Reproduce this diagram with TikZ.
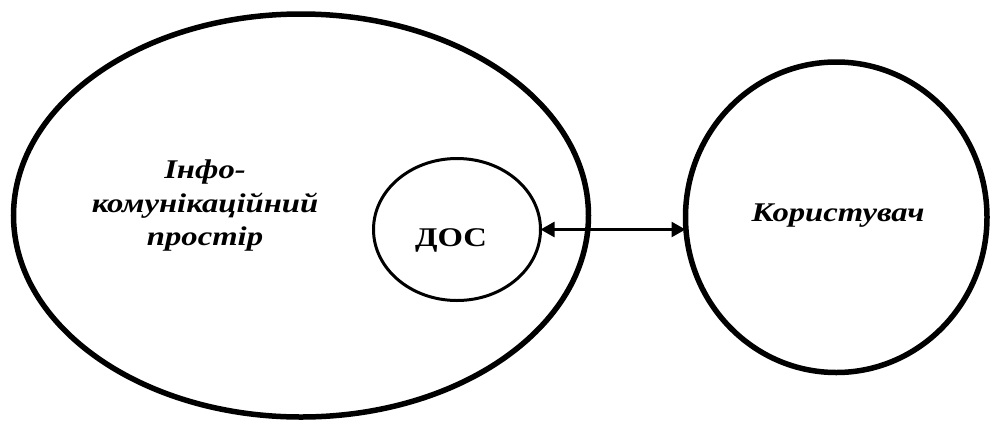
\documentclass[tikz,border=0pt]{standalone}
\usepackage{graphicx}
\usepackage{fontspec}
\setmainfont{Liberation Serif}
\usetikzlibrary{shapes.geometric,arrows.meta}
\newcommand\hstretch[1]{\scalebox{1.21}[1]{#1}}
\begin{document}
\begin{tikzpicture}[x=1pt,y=-1pt,
  bigshape/.style={draw, ellipse, line width=5.5pt, inner sep=0pt, outer sep=0pt},
  smallshape/.style={draw, ellipse, line width=3pt, inner sep=0pt, outer sep=0pt},
  lbl/.style={font=\fontsize{27}{33.5}\selectfont\bfseries\itshape, align=center, inner sep=0pt},
  link/.style={line width=2.6pt, {Triangle[length=14pt,width=15pt]}-{Triangle[length=14pt,width=15pt]}}]
\useasboundingbox (0,0) rectangle (990,421);
\node[bigshape, minimum width=575pt, minimum height=403pt] (info) at (301,215.5) {};
\node[smallshape, minimum width=167pt, minimum height=142pt] (dos) at (457,229.5) {};
\node[font=\fontsize{27}{33}\selectfont\bfseries, inner sep=0pt, anchor=base] (doslbl) at (451,246) {\hstretch{ДОС}};
\node[bigshape, minimum width=301.5pt, minimum height=310.5pt] (user) at (836.25,217.25) {};
\node[lbl] (infolbl) at (205,206) {\hstretch{Інфо-}\\\hstretch{комунікаційний}\\\hstretch{простір}};
\node[lbl, anchor=base] (userlbl) at (838,221.7) {\hstretch{Користувач}};
\coordinate (tip) at (dos.east -| user.west);
\draw[link] (dos.east) -- (tip);
\end{tikzpicture}
\end{document}
